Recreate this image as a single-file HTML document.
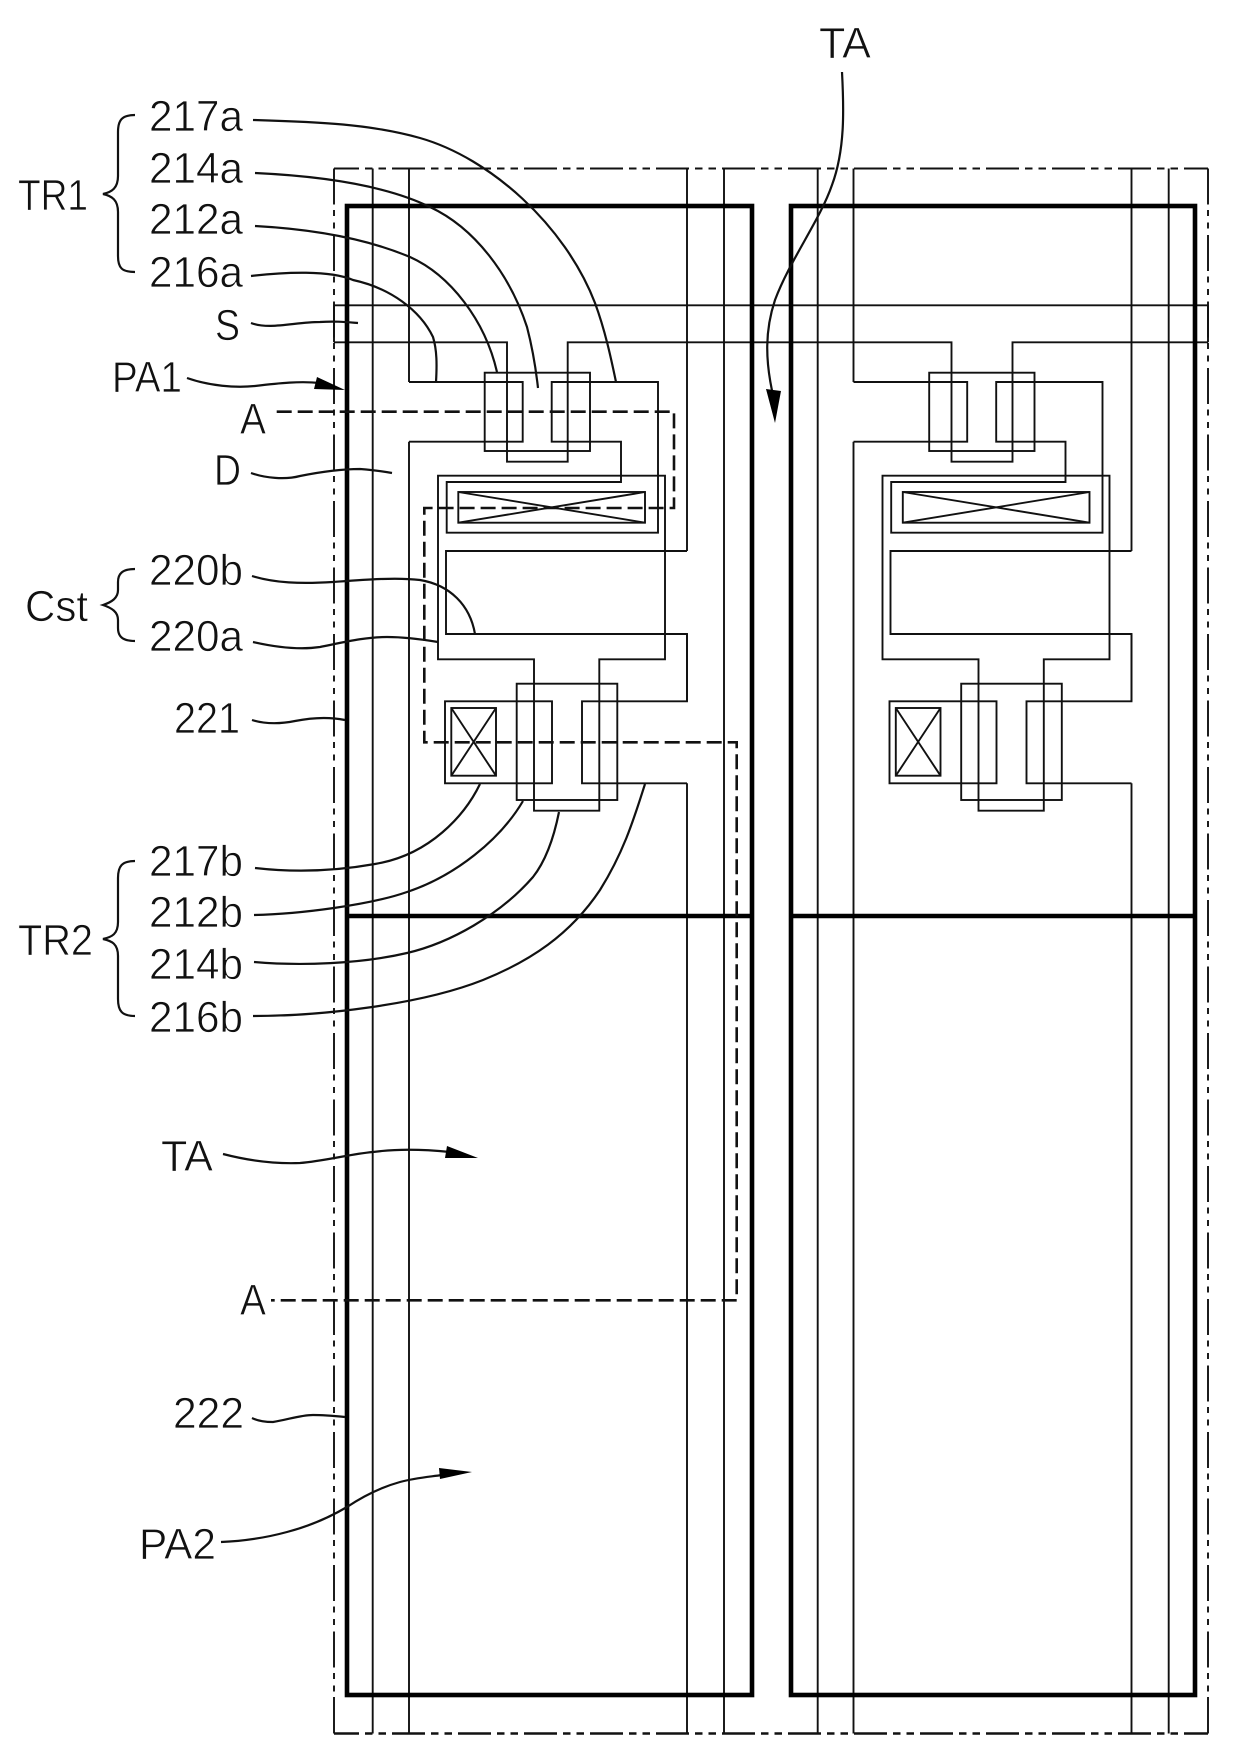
<!DOCTYPE html>
<html><head><meta charset="utf-8"><style>
html,body{margin:0;padding:0;background:#fff}
svg{display:block}
text{font-family:"Liberation Sans",sans-serif;font-size:44px;fill:#111;stroke:#fff;stroke-width:.7px;paint-order:normal}
.t{fill:none;stroke:#111;stroke-width:1.9}
.k{fill:none;stroke:#000;stroke-width:4.6}
.l{fill:none;stroke:#111;stroke-width:2.2}
.d{fill:none;stroke:#111;stroke-width:2.6;stroke-dasharray:15 6}
.ov{fill:none;stroke:#111;stroke-width:1.9;stroke-dasharray:36 5.5 6 6.5 6 6.5}
.oh{fill:none;stroke:#111;stroke-width:1.9;stroke-dasharray:33 6 7.5 6 7.5 6;stroke-dashoffset:8}
</style></head><body>
<svg width="1240" height="1764" viewBox="0 0 1240 1764" xmlns="http://www.w3.org/2000/svg">
<defs>
<g id="px" class="t">
<path class="t" d="M551.7 382H658V532.7H446.7V482H621V441.7H551.7Z"/>
<path class="t" d="M409 382H522.7V441.7H409"/>
<rect class="t" x="484.7" y="372.7" width="105.3" height="78.3"/>
<path class="t" d="M438 475.7H665V659.3H599.3V810.7H534V659.3H438Z"/>
<rect class="t" x="458.3" y="492" width="186.7" height="30.7"/>
<path class="t" d="M458.3 492L645 522.7M645 492L458.3 522.7"/>
<path class="t" d="M687 551H446V634H687V701.3H582V783.3H687"/>
<rect class="t" x="516.7" y="683.7" width="100.6" height="116.3"/>
<rect class="t" x="445" y="701.3" width="107" height="82"/>
<rect class="t" x="451.3" y="708" width="44.7" height="67.7" stroke-width="2.3"/>
<path class="t" d="M451.3 708L496 775.7M496 708L451.3 775.7"/>
</g>
</defs>
<rect width="1240" height="1764" fill="#fff"/>

<!-- outer dash-dot frame -->
<path class="oh" d="M334 168.5H1208"/>
<path class="oh" style="stroke-width:2.5" d="M334 1733.5H1208"/>
<path class="ov" d="M334 168.5V1697M1208 168.5V1697"/>
<path class="t" d="M334 1697V1733.5M1208 1697V1733.5"/>

<!-- vertical lines -->
<path class="t" d="M372.7 168.5V1733.5M409 168.5V382M409 441.7V1733.5M687 168.5V551M687 634V701.3M687 783.3V1733.5M724 168.5V1733.5"/>
<path class="t" d="M817.7 168.5V1733.5M853.5 168.5V382M853.5 441.7V1733.5M1131.5 168.5V551M1131.5 634V701.3M1131.5 783.3V1733.5M1168.7 168.5V1733.5"/>

<!-- scan line band -->
<path class="t" d="M334 305.3H1208M334 305.3V342.3M1208 305.3V342.3"/>
<path class="t" d="M334 342.3H507V461.7H567.7V342.3H951.5V461.7H1012.5V342.3H1208"/>

<use href="#px"/>
<use href="#px" x="444.5"/>

<!-- thick frames -->
<rect class="k" x="347" y="206" width="405" height="1489"/>
<rect class="k" x="791" y="206" width="404" height="1489"/>
<path class="k" d="M347 916H752M791 916H1195"/>

<!-- A-A section dashed -->
<path class="d" d="M276.7 411.7H674V508H424.3V742.3H736.7V1300.3H271"/>

<!-- leaders -->
<g class="l">
<path class="l" d="M253 120C320 122 370 124 420 138C490 158 565 225 595 303C605 330 611 358 616 382"/>
<path class="l" d="M255 173C320 176 385 185 430 207C475 228 510 275 527 327C533 350 536 370 538 388"/>
<path class="l" d="M255 226C310 229 365 238 410 257C450 275 485 320 497 372"/>
<path class="l" d="M251 276C285 272 330 270 353 280C390 288 420 310 433 337C437 350 437 365 436 382"/>
<path class="l" d="M251 323C270 330 295 322 320 322C335 321 345 322 358 323"/>
<path class="l" d="M187 378C210 386 235 388 255 386C280 383 300 381 320 383"/>
<path class="l" d="M251 473C265 478 285 480 300 476C320 472 340 469 360 469C372 470 382 471 392 473"/>
<path class="l" d="M252 576C275 583 300 584 333 582C360 580 395 577 420 580C450 585 470 605 475 634"/>
<path class="l" d="M253 642C275 647 300 650 320 647C345 642 365 637 387 637C405 637 420 639 438 642"/>
<path class="l" d="M252 720C265 724 280 724 295 721C315 717 330 717 345 720"/>
<path class="l" d="M255 868C290 872 330 872 375 864C430 855 465 815 480 784"/>
<path class="l" d="M254 915C300 914 370 905 407 892C455 876 500 840 523 801"/>
<path class="l" d="M254 962C300 966 360 964 407 953C450 943 500 915 533 877C548 858 555 832 559 812"/>
<path class="l" d="M253 1016C320 1016 420 1005 483 980C530 961 570 935 600 890C625 850 635 815 645 784"/>
<path class="l" d="M223 1154C250 1161 275 1164 300 1163C325 1161 350 1154 373 1152C395 1149 420 1149 450 1152"/>
<path class="l" d="M252 1418C258 1421 265 1422 273 1422C287 1420 300 1415 313 1415C325 1415 335 1416 345 1417"/>
<path class="l" d="M221 1542C245 1541 265 1538 287 1532C310 1526 330 1517 347 1507C365 1495 382 1487 400 1482C415 1478 428 1477 442 1475"/>
<path class="l" d="M842 72C844 110 845 150 832 185C820 220 790 260 775 300C765 330 765 360 773 395"/>
</g>

<!-- arrowheads -->
<path fill="#000" d="M345 390L317 377L314 389Z"/>
<path fill="#000" d="M478 1158L447 1146L445 1158Z"/>
<path fill="#000" d="M472 1472L439 1468L440 1479Z"/>
<path fill="#000" d="M775 423L766 389L781 391Z"/>

<!-- braces -->
<path class="l" d="M135 115C122 115 118 120 118 132V176C118 188 112 192 103 194C112 196 118 200 118 212V256C118 268 122 272 135 272"/>
<path class="l" d="M135 569C122 569 118 574 118 582V590C118 598 112 602 103 605C112 608 118 612 118 620V628C118 636 122 641 135 641"/>
<path class="l" d="M135 861C122 861 118 866 118 878V922C118 934 112 937 103 939C112 941 118 944 118 956V999C118 1011 122 1016 135 1016"/>

<!-- labels -->
<text x="149" y="131" textLength="94" lengthAdjust="spacingAndGlyphs">217a</text>
<text x="149" y="183" textLength="94" lengthAdjust="spacingAndGlyphs">214a</text>
<text x="149" y="234" textLength="94" lengthAdjust="spacingAndGlyphs">212a</text>
<text x="149" y="287" textLength="94" lengthAdjust="spacingAndGlyphs">216a</text>
<text x="18" y="210" textLength="70" lengthAdjust="spacingAndGlyphs">TR1</text>
<text x="215" y="340" textLength="25" lengthAdjust="spacingAndGlyphs">S</text>
<text x="112" y="392" textLength="70" lengthAdjust="spacingAndGlyphs">PA1</text>
<text x="240" y="434" textLength="26" lengthAdjust="spacingAndGlyphs">A</text>
<text x="214" y="485" textLength="27" lengthAdjust="spacingAndGlyphs">D</text>
<text x="149" y="585" textLength="94" lengthAdjust="spacingAndGlyphs">220b</text>
<text x="149" y="651" textLength="94" lengthAdjust="spacingAndGlyphs">220a</text>
<text x="25" y="621" textLength="63" lengthAdjust="spacingAndGlyphs">Cst</text>
<text x="174" y="733" textLength="66" lengthAdjust="spacingAndGlyphs">221</text>
<text x="149" y="876" textLength="94" lengthAdjust="spacingAndGlyphs">217b</text>
<text x="149" y="927" textLength="94" lengthAdjust="spacingAndGlyphs">212b</text>
<text x="149" y="979" textLength="94" lengthAdjust="spacingAndGlyphs">214b</text>
<text x="149" y="1032" textLength="94" lengthAdjust="spacingAndGlyphs">216b</text>
<text x="18" y="955" textLength="75" lengthAdjust="spacingAndGlyphs">TR2</text>
<text x="161" y="1171" textLength="52" lengthAdjust="spacingAndGlyphs">TA</text>
<text x="240" y="1315" textLength="26" lengthAdjust="spacingAndGlyphs">A</text>
<text x="173" y="1428" textLength="71" lengthAdjust="spacingAndGlyphs">222</text>
<text x="139" y="1559" textLength="77" lengthAdjust="spacingAndGlyphs">PA2</text>
<text x="819" y="58" textLength="52" lengthAdjust="spacingAndGlyphs">TA</text>
</svg>
</body></html>
